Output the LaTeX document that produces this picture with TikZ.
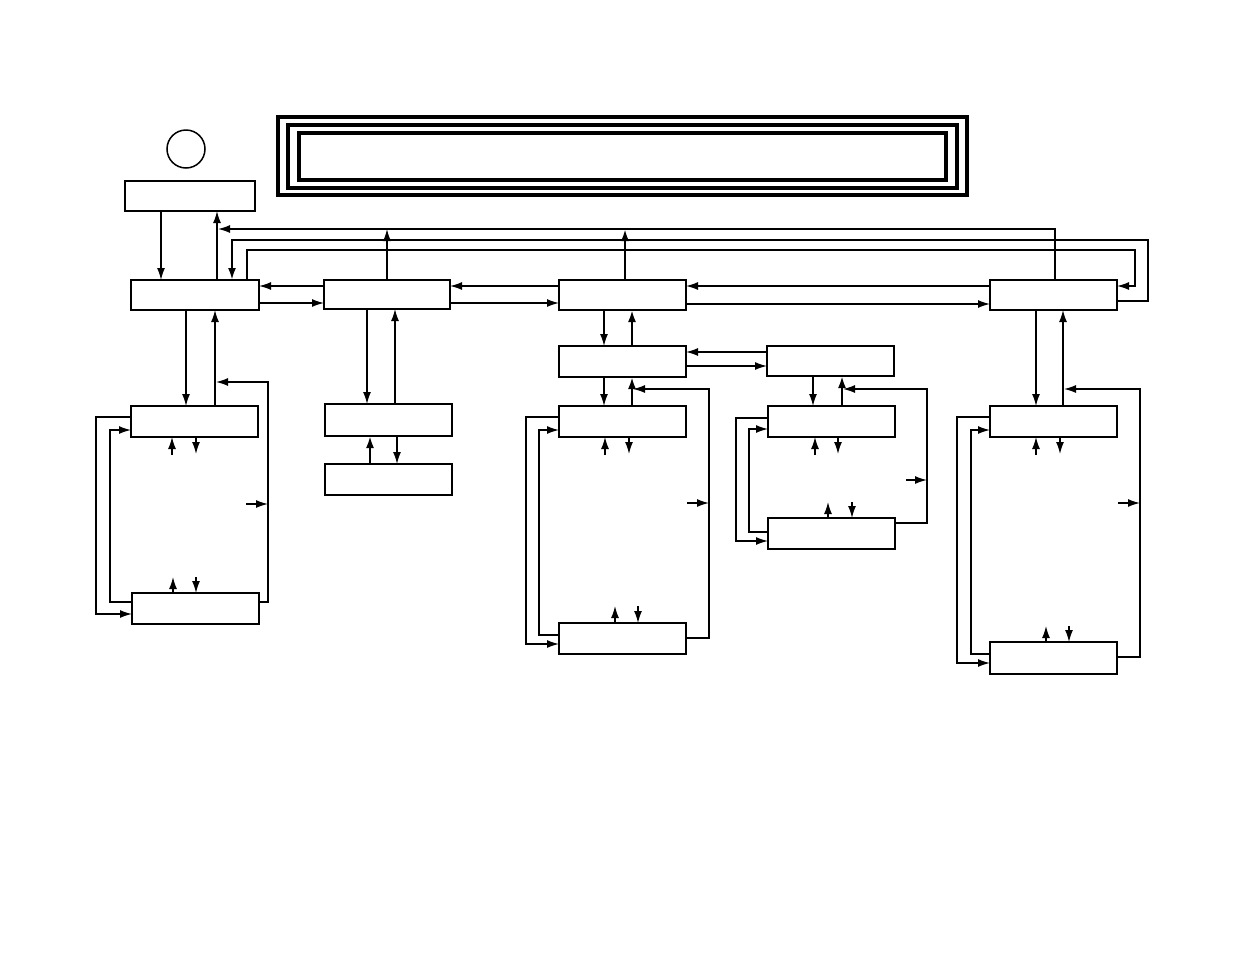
\documentclass[tikz,border=0pt]{standalone}
\usetikzlibrary{arrows.meta}
\begin{document}
\begin{tikzpicture}[x=1pt,y=-1pt,
  box/.style={draw,line width=1.7pt,inner sep=0pt,outer sep=0pt,anchor=north west},
  frm/.style={draw,line width=3.2pt,inner sep=0pt,outer sep=0pt,anchor=north west},
  con/.style={line width=1.4pt},
  arr/.style={con,-{Latex[length=12pt,width=8pt]}},
  thk/.style={line width=2.2pt}]
\useasboundingbox (0,0) rectangle (1235,954);
\newcommand{\bx}[5]{\node[box,minimum width={(#4-#2)*1pt},minimum height={(#5-#3)*1pt}] (#1) at (#2,#3) {};}
% frame and circle
\node[frm,minimum width=689pt,minimum height=78pt] (F1) at (278,117) {};
\node[frm,minimum width=669pt,minimum height=63pt] (F2) at (288,125) {};
\node[frm,minimum width=647pt,minimum height=47pt] (F3) at (299,133) {};
\node[draw,line width=1.5pt,circle,minimum size=38pt,inner sep=0pt] (O) at (186,149) {};
% boxes
\bx{A}{125}{181}{255}{211}
\bx{B}{131}{280}{259}{310}
\bx{C}{324}{280}{450}{309}
\bx{D}{559}{280}{686}{310}
\bx{E}{990}{280}{1117}{310}
\bx{F}{559}{346}{686}{377}
\bx{G}{767}{346}{894}{376}
\bx{L1}{131}{406}{258}{437}
\bx{L2}{132}{593}{259}{624}
\bx{M1}{325}{404}{452}{436}
\bx{M2}{325}{464}{452}{495}
\bx{H1}{559}{406}{686}{437}
\bx{H2}{559}{623}{686}{654}
\bx{N1}{768}{406}{895}{437}
\bx{N2}{768}{518}{895}{549}
\bx{R1}{990}{406}{1117}{437}
\bx{R2}{990}{642}{1117}{674}
% top connections
\draw[arr] (161,0 |- A.south) -- (161,0 |- B.north);
\draw[arr] (217,0 |- B.north) -- (217,0 |- A.south);
\coordinate (t1) at (218,229);
\draw[arr] (1055,0 |- E.north) |- (t1);
\coordinate (t2) at (387,229);
\draw[arr] (387,0 |- C.north) -- (t2);
\coordinate (t3) at (625,229);
\draw[arr,thk] (625,0 |- D.north) -- (t3);
\draw[arr,thk] (E.east |- 0,301) -| (1148,240) -| (232,0 |- B.north);
\draw[arr] (247,0 |- B.north) |- (1135,250) |- (E.east |- 0,286);
% horizontal
\draw[arr] (C.west |- 0,286) -- (B.east |- 0,286);
\draw[arr] (B.east |- 0,303) -- (C.west |- 0,303);
\draw[arr] (D.west |- 0,286) -- (C.east |- 0,286);
\draw[arr] (C.east |- 0,303) -- (D.west |- 0,303);
\draw[arr] (E.west |- 0,286) -- (D.east |- 0,286);
\draw[arr] (D.east |- 0,304) -- (E.west |- 0,304);
\draw[arr] (G.west |- 0,352) -- (F.east |- 0,352);
\draw[arr] (F.east |- 0,366) -- (G.west |- 0,366);
% D column
\draw[arr] (604,0 |- D.south) -- (604,0 |- F.north);
\draw[arr,thk] (632,0 |- F.north) -- (632,0 |- D.south);
\draw[arr] (604,0 |- F.south) -- (604,0 |- H1.north);
\draw[arr,thk] (632,0 |- H1.north) -- (632,0 |- F.south);
\draw[arr] (H2.east |- 0,638) -| (709,389) -- (633,389);
\draw[arr] (687,503) -- (709,503);
\draw[arr] (H1.west |- 0,417) -| (526,644) -- (H2.west |- 0,644);
\draw[arr] (H2.west |- 0,635) -| (539,430) -- (H1.west |- 0,430);
\draw[arr] (605,455) -- (605,0 |- H1.south);
\draw[arr] (629,0 |- H1.south) -- (629,454);
\draw[arr] (615,0 |- H2.north) -- (615,606);
\draw[arr] (638,606) -- (638,0 |- H2.north);
% left column
\draw[arr] (186,0 |- B.south) -- (186,0 |- L1.north);
\draw[arr] (215,0 |- L1.north) -- (215,0 |- B.south);
\draw[arr] (L2.east |- 0,602) -| (268,382) -- (216,382);
\draw[arr] (246,504) -- (268,504);
\draw[arr] (L1.west |- 0,417) -| (96,614) -- (L2.west |- 0,614);
\draw[arr] (L2.west |- 0,602) -| (110,430) -- (L1.west |- 0,430);
\draw[arr] (172,455) -- (172,0 |- L1.south);
\draw[arr] (196,0 |- L1.south) -- (196,454);
\draw[arr] (173,0 |- L2.north) -- (173,577);
\draw[arr] (196,577) -- (196,0 |- L2.north);
% C column
\draw[arr] (367,0 |- C.south) -- (367,0 |- M1.north);
\draw[arr] (395,0 |- M1.north) -- (395,0 |- C.south);
\draw[arr,thk] (370,0 |- M2.north) -- (370,0 |- M1.south);
\draw[arr] (397,0 |- M1.south) -- (397,0 |- M2.north);
% G column
\draw[arr] (813,0 |- G.south) -- (813,0 |- N1.north);
\draw[arr,thk] (842,0 |- N1.north) -- (842,0 |- G.south);
\draw[arr] (N2.east |- 0,523) -| (927,389) -- (843,389);
\draw[arr] (906,480) -- (927,480);
\draw[arr] (N1.west |- 0,418) -| (736,541) -- (N2.west |- 0,541);
\draw[arr] (N2.west |- 0,532) -| (749,429) -- (N1.west |- 0,429);
\draw[arr] (815,455) -- (815,0 |- N1.south);
\draw[arr] (838,0 |- N1.south) -- (838,454);
\draw[arr] (828,0 |- N2.north) -- (828,502);
\draw[arr] (852,502) -- (852,0 |- N2.north);
% right column
\draw[arr] (1036,0 |- E.south) -- (1036,0 |- R1.north);
\draw[arr] (1063,0 |- R1.north) -- (1063,0 |- E.south);
\draw[arr] (R2.east |- 0,657) -| (1140,389) -- (1064,389);
\draw[arr] (1118,503) -- (1140,503);
\draw[arr] (R1.west |- 0,417) -| (957,663) -- (R2.west |- 0,663);
\draw[arr] (R2.west |- 0,654) -| (971,430) -- (R1.west |- 0,430);
\draw[arr] (1036,455) -- (1036,0 |- R1.south);
\draw[arr] (1060,0 |- R1.south) -- (1060,454);
\draw[arr] (1046,0 |- R2.north) -- (1046,626);
\draw[arr] (1069,626) -- (1069,0 |- R2.north);
\end{tikzpicture}
\end{document}
